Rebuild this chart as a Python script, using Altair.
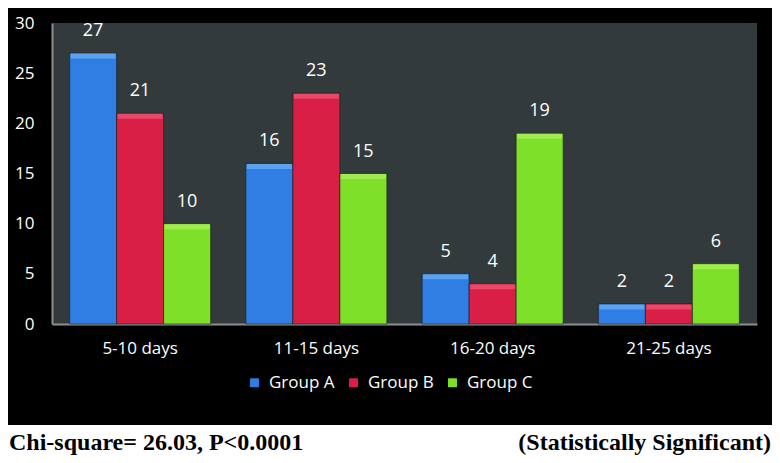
import altair as alt
import pandas as pd

categories = ["5-10 days", "11-15 days", "16-20 days", "21-25 days"]
groups = ["Group A", "Group B", "Group C"]
group_a = [27, 16, 5, 2]
group_b = [21, 23, 4, 2]
group_c = [10, 15, 19, 6]
colors = ["#2f7ee3", "#d91f45", "#7fe02a"]
highlight_colors = ["#6fb2f5", "#ef5a78", "#aef060"]
y_ticks = [0, 5, 10, 15, 20, 25, 30]
footer_left = "Chi-square= 26.03, P<0.0001"
footer_right = "(Statistically Significant)"

rows = []
for g, vals in zip(groups, [group_a, group_b, group_c]):
    for c, v in zip(categories, vals):
        rows.append({"category": c, "group": g, "value": v})
df = pd.DataFrame(rows)

FONT = "Open Sans"

x = alt.X("category:N", sort=categories, title=None,
          scale=alt.Scale(paddingInner=0.2, paddingOuter=0.1),
          axis=alt.Axis(labelAngle=0, labelColor="white", labelFontSize=17,
                        labelFont=FONT, labelPadding=16, ticks=False,
                        domainColor="#8a8f90", domainWidth=2))
y = alt.Y("value:Q", title=None,
          scale=alt.Scale(domain=[0, 30]),
          axis=alt.Axis(values=y_ticks, labelColor="white", labelFontSize=17,
                        labelFont=FONT, labelPadding=18, ticks=False, grid=False,
                        domainColor="#8a8f90", domainWidth=2))

base = alt.Chart(df).encode(x=x, xOffset=alt.XOffset("group:N", sort=groups))

bars = base.mark_bar(stroke="#1a1a1a", strokeWidth=0.6).encode(
    y=y,
    color=alt.Color("group:N", sort=groups,
                    scale=alt.Scale(domain=groups, range=colors),
                    legend=alt.Legend(title=None, orient="none", direction="horizontal",
                                      legendX=194, legendY=351,
                                      symbolType="square", symbolSize=80,
                                      symbolStrokeWidth=0,
                                      labelColor="white", labelFontSize=17,
                                      labelFont=FONT, columnPadding=10,
                                      labelOffset=6)),
)

tops = base.mark_tick(thickness=5, size=45, yOffset=3).encode(
    y=alt.Y("value:Q"),
    color=alt.Color("group:N", sort=groups,
                    scale=alt.Scale(domain=groups, range=highlight_colors),
                    legend=None),
)

labels = base.mark_text(dy=-22, color="white", fontSize=18, font=FONT).encode(
    y=alt.Y("value:Q"), text="value:Q"
)

strip = alt.Chart(pd.DataFrame({"a": [0]})).mark_rect(color="white").encode(
    x=alt.value(-44), x2=alt.value(720), y=alt.value(402), y2=alt.value(440)
)

left_txt = alt.Chart(pd.DataFrame({"t": [footer_left]})).mark_text(
    align="left", baseline="alphabetic", font="Liberation Serif", fontWeight="bold",
    fontSize=24, color="black"
).encode(x=alt.value(-43), y=alt.value(427), text="t:N")

right_txt = alt.Chart(pd.DataFrame({"t": [footer_right]})).mark_text(
    align="right", baseline="alphabetic", font="Liberation Serif", fontWeight="bold",
    fontSize=24, color="black"
).encode(x=alt.value(719), y=alt.value(427), text="t:N")

chart = alt.layer(strip, bars, tops, labels, left_txt, right_txt).resolve_scale(
    color="independent"
).properties(
    width=705, height=301,
    autosize=alt.AutoSizeParams(type="none"),
    padding={"left": 44, "top": 15, "right": 15, "bottom": 131},
    background="black",
).configure_view(fill="#323a3c", stroke=None)

chart.save("out.html", embed_options={"renderer": "svg", "actions": False})
